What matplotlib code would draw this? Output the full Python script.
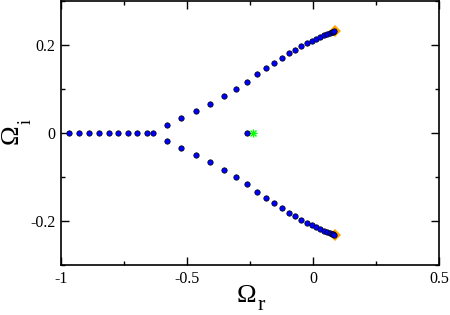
import matplotlib
matplotlib.use("Agg")
import matplotlib.pyplot as plt
from matplotlib.ticker import MultipleLocator

# --- data ---
# eigenvalues sitting on the real axis
axis_re = [-0.967, -0.927, -0.887, -0.849, -0.810, -0.772, -0.733, -0.700, -0.658, -0.636, -0.263]
axis_im = [0.0] * len(axis_re)

# upper branch (lower branch is its mirror image)
branch_re = [-0.581, -0.522, -0.463, -0.408, -0.355, -0.307, -0.263, -0.222, -0.187, -0.153,
             -0.123, -0.095, -0.070, -0.046, -0.025, -0.005, 0.013, 0.029, 0.044, 0.056,
             0.066, 0.074, 0.080, 0.084]
branch_im = [0.018, 0.035, 0.051, 0.067, 0.084, 0.100, 0.117, 0.133, 0.147, 0.160,
             0.171, 0.181, 0.189, 0.197, 0.204, 0.209, 0.214, 0.218, 0.222, 0.225,
             0.227, 0.229, 0.230, 0.231]

# end points (orange diamonds) and green star
end_re = [0.087, 0.087]
end_im = [0.231, -0.231]
star_re = [-0.238]
star_im = [0.0]

plt.rcParams['font.family'] = ['Liberation Serif', 'DejaVu Serif']

fig = plt.figure(figsize=(4.5, 3.15), dpi=100)
ax = fig.add_axes([61 / 450, 1 - 265 / 315, 378 / 450, 264 / 315])

ax.plot(end_re, end_im, 'D', color='orange', markersize=6.5, markeredgewidth=0, zorder=2)
# grace-style star: plus + cross
ax.plot(star_re, star_im, '+', color='#00ff00', markersize=6, markeredgewidth=1, zorder=3)
ax.plot(star_re, star_im, 'x', color='#00ff00', markersize=4.5, markeredgewidth=1, zorder=3)
dot = dict(marker='o', linestyle='none', markerfacecolor='#0000ff', markeredgecolor='black',
           markeredgewidth=0.5, markersize=3.9, zorder=4)
ax.plot(axis_re, axis_im, **dot)
ax.plot(branch_re, branch_im, **dot)
ax.plot(branch_re, [-v for v in branch_im], **dot)

ax.set_xlim(-1, 0.5)
ax.set_ylim(-0.3, 0.3)
ax.set_xticks([-1, -0.5, 0, 0.5])
ax.set_xticklabels(['-1', '-0.5', '0', '0.5'])
ax.set_yticks([-0.2, 0, 0.2])
ax.set_yticklabels(['-0.2', '0', '0.2'])
ax.xaxis.set_minor_locator(MultipleLocator(0.25))
ax.yaxis.set_minor_locator(MultipleLocator(0.1))
ax.tick_params(which='both', direction='in', top=True, right=True, labelsize=11.5, width=1)
ax.tick_params(which='major', length=6, pad=4)
ax.tick_params(which='minor', length=3)
for s in ax.spines.values():
    s.set_linewidth(1.2)

# axis labels: grace-style subscripts (same size, lowered)
fig.text(237 / 450, 1 - 302 / 315, '\u03a9', fontsize=19, ha='left', va='baseline')
fig.text(258 / 450, 1 - 310 / 315, 'r', fontsize=16, ha='left', va='baseline')
fig.text(18 / 450, 1 - 144 / 315, '\u03a9', fontsize=19, rotation=90,
         rotation_mode='anchor', ha='left', va='baseline')
fig.text(31 / 450, 1 - 124 / 315, 'i', fontsize=13, rotation=90,
         rotation_mode='anchor', ha='left', va='baseline')

plt.savefig('out.png', dpi=100)
